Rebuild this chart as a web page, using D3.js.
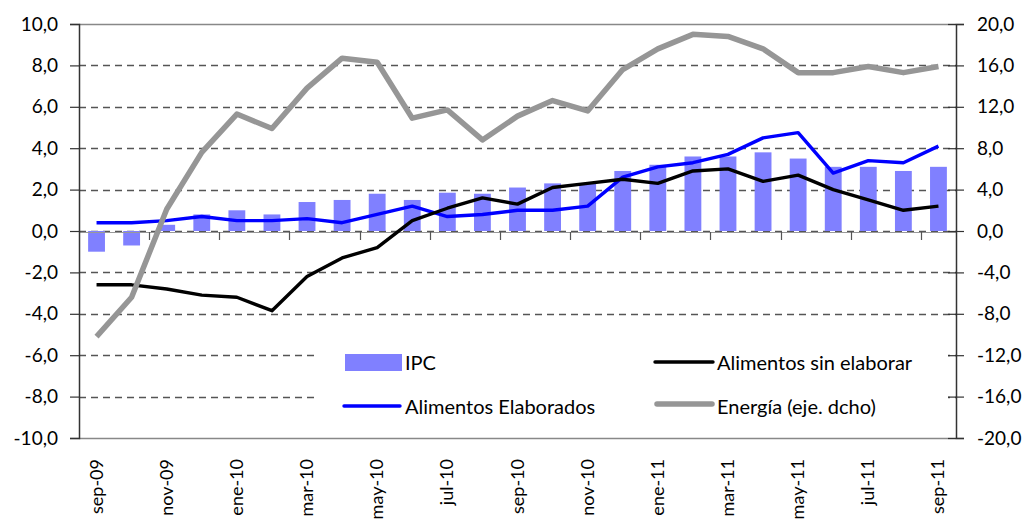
<!DOCTYPE html>
<html>
<head>
<meta charset="utf-8">
<script src="https://cdn.jsdelivr.net/npm/d3@7"></script>
<style>
  body { margin: 0; background: #fff; }
  svg text { font-family: Lato, "Open Sans", sans-serif; fill: #000; }
</style>
</head>
<body>
<div id="chart"></div>
<script>
// ---------------------------- DATA ----------------------------//
const months = ['sep-09', 'oct-09', 'nov-09', 'dic-09', 'ene-10', 'feb-10', 'mar-10', 'abr-10',
  'may-10', 'jun-10', 'jul-10', 'ago-10', 'sep-10', 'oct-10', 'nov-10', 'dic-10', 'ene-11',
  'feb-11', 'mar-11', 'abr-11', 'may-11', 'jun-11', 'jul-11', 'ago-11', 'sep-11'];
const ipc = [-1.0, -0.7, 0.3, 0.8, 1.0, 0.8, 1.4, 1.5, 1.8, 1.5, 1.85, 1.8, 2.1, 2.3, 2.3,
  2.9, 3.2, 3.6, 3.6, 3.8, 3.5, 3.1, 3.1, 2.9, 3.1];
const elaborados = [0.4, 0.4, 0.5, 0.7, 0.5, 0.5, 0.6, 0.4, 0.8, 1.2, 0.7, 0.8, 1.0, 1.0, 1.2,
  2.6, 3.1, 3.3, 3.7, 4.5, 4.75, 2.8, 3.4, 3.3, 4.1];
const sinElaborar = [-2.6, -2.6, -2.8, -3.1, -3.2, -3.85, -2.2, -1.3, -0.8, 0.5, 1.1, 1.6, 1.3,
  2.1, 2.3, 2.5, 2.3, 2.9, 3.0, 2.4, 2.7, 2.0, 1.5, 1.0, 1.2];
const energia = [-10.2, -6.4, 2.1, 7.6, 11.3, 9.9, 13.8, 16.7, 16.3, 10.9, 11.7, 8.8, 11.1, 12.6,
  11.6, 15.6, 17.6, 19.0, 18.8, 17.6, 15.3, 15.3, 15.9, 15.3, 15.9];
const leftTicks = [-10, -8, -6, -4, -2, 0, 2, 4, 6, 8, 10];
const rightTicks = [-20, -16, -12, -8, -4, 0, 4, 8, 12, 16, 20];
const legendItems = ['IPC', 'Alimentos sin elaborar', 'Alimentos Elaborados', 'Energía (eje. dcho)'];

// ---------------------------- SETUP ---------------------------//
const width = 1026;
const height = 520;
const plotLeft = 79;
const plotRight = 956;
const plotTop = 24;
const plotBottom = 438;

const svg = d3.select('#chart').append('svg')
  .attr('width', width)
  .attr('height', height);

const fmt = v => d3.format('.1f')(v).replace('.', ',').replace('−', '-');

// ---------------------------- SCALES --------------------------//
const x = d3.scaleBand().domain(months).range([plotLeft, plotRight]);
const yL = d3.scaleLinear().domain([-10, 10]).range([plotBottom, plotTop]);
const yR = d3.scaleLinear().domain([-20, 20]).range([plotBottom, plotTop]);
const cx = m => x(m) + x.bandwidth() / 2;
const barW = x.bandwidth() * 0.48;

// ---------------------------- GRID ----------------------------//
svg.append('g')
  .selectAll('line')
  .data(leftTicks.filter(t => t > -10 && t < 10))
  .enter()
  .append('line')
  .attr('x1', plotLeft)
  .attr('x2', plotRight)
  .attr('y1', d => Math.round(yL(d)) + 0.5)
  .attr('y2', d => Math.round(yL(d)) + 0.5)
  .attr('stroke', '#555')
  .attr('stroke-width', 1.3)
  .attr('stroke-dasharray', '7,5');

// border top
svg.append('line').attr('x1', plotLeft).attr('x2', plotRight)
  .attr('y1', plotTop + 0.5).attr('y2', plotTop + 0.5).attr('stroke', '#888').attr('stroke-width', 1.5);

// ---------------------------- BARS ----------------------------//
svg.append('g')
  .selectAll('rect')
  .data(months.map((m, i) => ({ m, v: ipc[i] })))
  .enter()
  .append('rect')
  .attr('x', d => cx(d.m) - barW / 2)
  .attr('width', barW)
  .attr('y', d => yL(Math.max(0, d.v)))
  .attr('height', d => Math.abs(yL(d.v) - yL(0)))
  .attr('fill', '#8080ff');

// zero axis with ticks every two months
svg.append('line').attr('x1', plotLeft).attr('x2', plotRight)
  .attr('y1', yL(0) + 1.5).attr('y2', yL(0) + 1.5).attr('stroke', '#999').attr('stroke-width', 1.2);
svg.append('g')
  .selectAll('line')
  .data(months.filter((m, i) => i % 2 === 0 && i > 0))
  .enter()
  .append('line')
  .attr('x1', d => Math.round(x(d)) + 0.5)
  .attr('x2', d => Math.round(x(d)) + 0.5)
  .attr('y1', yL(0) + 1)
  .attr('y2', yL(0) + 9)
  .attr('stroke', '#555')
  .attr('stroke-width', 1.2);

// ---------------------------- LEGEND BOX ----------------------//
svg.append('rect')
  .attr('x', 316).attr('y', 342).attr('width', 632).attr('height', plotBottom - 342)
  .attr('fill', '#fff');

svg.append('line').attr('x1', plotLeft).attr('x2', plotRight)
  .attr('y1', plotBottom + 0.5).attr('y2', plotBottom + 0.5).attr('stroke', '#888').attr('stroke-width', 1.5);

// ---------------------------- LINES ---------------------------//
const lineL = d3.line().x((d, i) => cx(months[i])).y(d => yL(d));
const lineR = d3.line().x((d, i) => cx(months[i])).y(d => yR(d));

svg.append('path').attr('d', lineL(elaborados))
  .attr('fill', 'none').attr('stroke', '#0000ff').attr('stroke-width', 3.4).attr('stroke-linejoin', 'round');
svg.append('path').attr('d', lineL(sinElaborar))
  .attr('fill', 'none').attr('stroke', '#000').attr('stroke-width', 3.4).attr('stroke-linejoin', 'round');
svg.append('path').attr('d', lineR(energia))
  .attr('fill', 'none').attr('stroke', '#969696').attr('stroke-width', 5.5).attr('stroke-linejoin', 'round');

// ---------------------------- AXES ----------------------------//
const axisL = svg.append('g')
  .attr('transform', `translate(${plotLeft},0)`)
  .call(d3.axisLeft(yL).tickValues(leftTicks).tickFormat(fmt).tickSize(9).tickPadding(12));
axisL.select('.domain').attr('stroke', '#333').attr('stroke-width', 1.5);
axisL.selectAll('.tick line').attr('stroke', '#333').attr('stroke-width', 1.2);
axisL.selectAll('text').style('font-size', '19px').attr('fill', '#000');

const axisR = svg.append('g')
  .attr('transform', `translate(${plotRight},0)`)
  .call(d3.axisRight(yR).tickValues(rightTicks).tickFormat(fmt).tickSize(8).tickPadding(13));
axisR.select('.domain').attr('stroke', '#333').attr('stroke-width', 1.5);
axisR.selectAll('.tick line').attr('stroke', '#333').attr('stroke-width', 1.2).attr('x1', -8);
axisR.selectAll('text').style('font-size', '19px').attr('fill', '#000');

// category labels, rotated
svg.append('g')
  .selectAll('text')
  .data(months.filter((m, i) => i % 2 === 0))
  .enter()
  .append('text')
  .attr('transform', d => `translate(${cx(d) + 6},${yL(-10) + 21}) rotate(-90)`)
  .attr('text-anchor', 'end')
  .style('font-size', '18px')
  .text(d => d);

// ---------------------------- LEGEND --------------------------//
const lg = svg.append('g').style('font-size', '20px');
lg.append('rect').attr('x', 345).attr('y', 354).attr('width', 57).attr('height', 17).attr('fill', '#8080ff');
lg.append('text').attr('x', 405).attr('y', 370).text(legendItems[0]);

lg.append('line').attr('x1', 655).attr('x2', 713).attr('y1', 362).attr('y2', 362)
  .attr('stroke', '#000').attr('stroke-width', 3.4).attr('stroke-linecap', 'round');
lg.append('text').attr('x', 717).attr('y', 370).text(legendItems[1]);

lg.append('line').attr('x1', 344).attr('x2', 400).attr('y1', 406).attr('y2', 406)
  .attr('stroke', '#0000ff').attr('stroke-width', 3.4).attr('stroke-linecap', 'round');
lg.append('text').attr('x', 405).attr('y', 414).text(legendItems[2]);

lg.append('line').attr('x1', 657).attr('x2', 712).attr('y1', 404).attr('y2', 404)
  .attr('stroke', '#969696').attr('stroke-width', 5.5).attr('stroke-linecap', 'round');
lg.append('text').attr('x', 717).attr('y', 414).text(legendItems[3]);
</script>
</body>
</html>
